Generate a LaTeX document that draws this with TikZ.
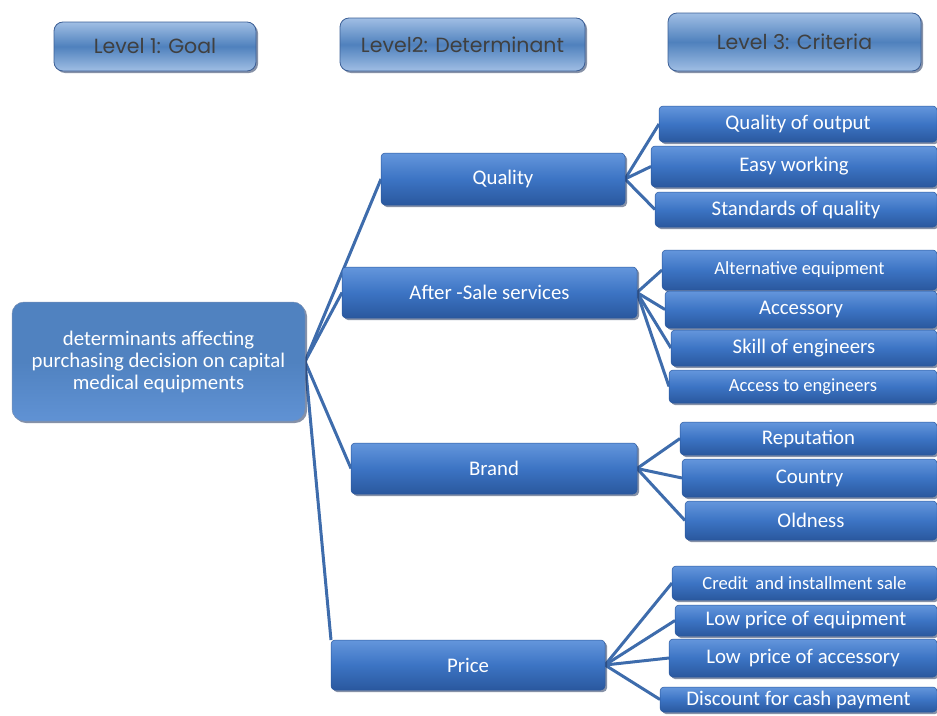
\documentclass[tikz,border=0pt]{standalone}
\usepackage{fontspec}
\setmainfont{Carlito}
\newfontfamily\headfont{Poppins}
\usetikzlibrary{shadows}
\pgfdeclarelayer{bg}
\pgfsetlayers{bg,main}

\definecolor{linkblue}{RGB}{62,108,172}
\definecolor{headlight}{RGB}{160,190,228}
\definecolor{headmid}{RGB}{79,129,189}
\definecolor{headedge}{RGB}{60,95,150}
\definecolor{boxtop}{RGB}{100,150,220}
\definecolor{boxmid}{RGB}{60,116,196}
\definecolor{boxbot}{RGB}{42,88,158}
\definecolor{goalfill}{RGB}{80,130,192}
\definecolor{goalbot}{RGB}{96,146,212}
\definecolor{shadowblue}{RGB}{35,55,95}

\tikzset{
  box/.style={anchor=north west, inner sep=0pt, outer sep=0pt, align=center,
    drop shadow={shadow xshift=2pt, shadow yshift=-2pt, fill=shadowblue, opacity=.55}},
  headbox/.style={box, rounded corners=9pt, draw=headedge, line width=.8pt,
    top color=headlight, bottom color=headlight, middle color=headmid,
    text=black!75, font=\headfont\fontsize{20.5}{24}\selectfont},
  goalbox/.style={box, rounded corners=12pt, draw=headedge!70, line width=.5pt,
    top color=goalfill, bottom color=goalbot, middle color=goalfill,
    text=white, font=\fontsize{20.8}{22}\selectfont},
  detbox/.style={box, rounded corners=4pt, draw=boxbot, line width=.5pt,
    top color=boxtop, bottom color=boxbot, middle color=boxmid,
    text=white, font=\fontsize{20.8}{24}\selectfont},
  critbox/.style={detbox},
  smalltext/.style={font=\fontsize{18.6}{22}\selectfont},
  link/.style={draw=linkblue, line width=3pt}
}

\begin{document}
\begin{tikzpicture}[x=1pt, y=-1pt]
  \useasboundingbox (0,0) rectangle (937,715);

  % level headers
  \node[headbox, minimum width=202, minimum height=49] (head1) at (54,22) {Level 1: Goal};
  \node[headbox, minimum width=245, minimum height=53] (head2) at (340,18) {Level2: Determinant};
  \node[headbox, minimum width=253, minimum height=58] (head3) at (668,13) {Level 3: Criteria};

  % goal
  \node[goalbox, minimum width=293, minimum height=119] (goal) at (12,302)
    {determinants affecting\\purchasing decision on capital\\medical equipments};

  % determinants
  \node[detbox, minimum width=244, minimum height=52] (qual) at (381,153) {Quality};
  \node[detbox, minimum width=295, minimum height=51] (after) at (342,267) {After -Sale services};
  \node[detbox, minimum width=286, minimum height=51] (brand) at (351,443) {Brand};
  \node[detbox, minimum width=274, minimum height=50] (price) at (331,640) {Price};

  % criteria
  \node[critbox, minimum width=278, minimum height=36] (qout) at (659,106) {Quality of output};
  \node[critbox, minimum width=286, minimum height=41] (easy) at (651,146) {Easy working};
  \node[critbox, minimum width=282, minimum height=35] (stand) at (655,192) {Standards of quality};

  \node[critbox, smalltext, minimum width=275, minimum height=40] (alt) at (662,250) {Alternative equipment};
  \node[critbox, minimum width=272, minimum height=37] (acc) at (665,291) {Accessory};
  \node[critbox, minimum width=266, minimum height=36] (skill) at (671,330) {Skill of engineers};
  \node[critbox, smalltext, minimum width=268, minimum height=33] (access) at (669,370) {Access to engineers};

  \node[critbox, minimum width=257, minimum height=33] (rep) at (680,422) {Reputation};
  \node[critbox, minimum width=255, minimum height=38] (country) at (682,459) {Country};
  \node[critbox, minimum width=252, minimum height=39] (old) at (685,501) {Oldness};

  \node[critbox, smalltext, minimum width=265, minimum height=34] (credit) at (672,566) {Credit\, and installment sale};
  \node[critbox, minimum width=262, minimum height=31] (lowequip) at (675,605) {Low price of equipment};
  \node[critbox, minimum width=268, minimum height=38] (lowacc) at (669,639) {Low\, price of accessory};
  \node[critbox, minimum width=277, minimum height=25] (cash) at (660,687) {Discount for cash payment};

  % connectors
  \begin{pgfonlayer}{bg}
    \draw[link] (goal.east) -- (qual.west);
    \draw[link] (goal.east) -- (after.west);
    \draw[link] (goal.east) -- (brand.west);
    \draw[link] (goal.east) -- (price.north west);

    \draw[link] (qual.east) -- (qout.west);
    \draw[link] (qual.east) -- (easy.west);
    \draw[link] (qual.east) -- (stand.west);

    \draw[link] (after.east) -- (alt.west);
    \draw[link] (after.east) -- (acc.west);
    \draw[link] (after.east) -- (skill.west);
    \draw[link] (after.east) -- (access.west);

    \draw[link] (brand.east) -- (rep.west);
    \draw[link] (brand.east) -- (country.west);
    \draw[link] (brand.east) -- (old.west);

    \draw[link] (price.east) -- (credit.west);
    \draw[link] (price.east) -- (lowequip.west);
    \draw[link] (price.east) -- (lowacc.west);
    \draw[link] (price.east) -- (cash.west);
  \end{pgfonlayer}
\end{tikzpicture}
\end{document}
